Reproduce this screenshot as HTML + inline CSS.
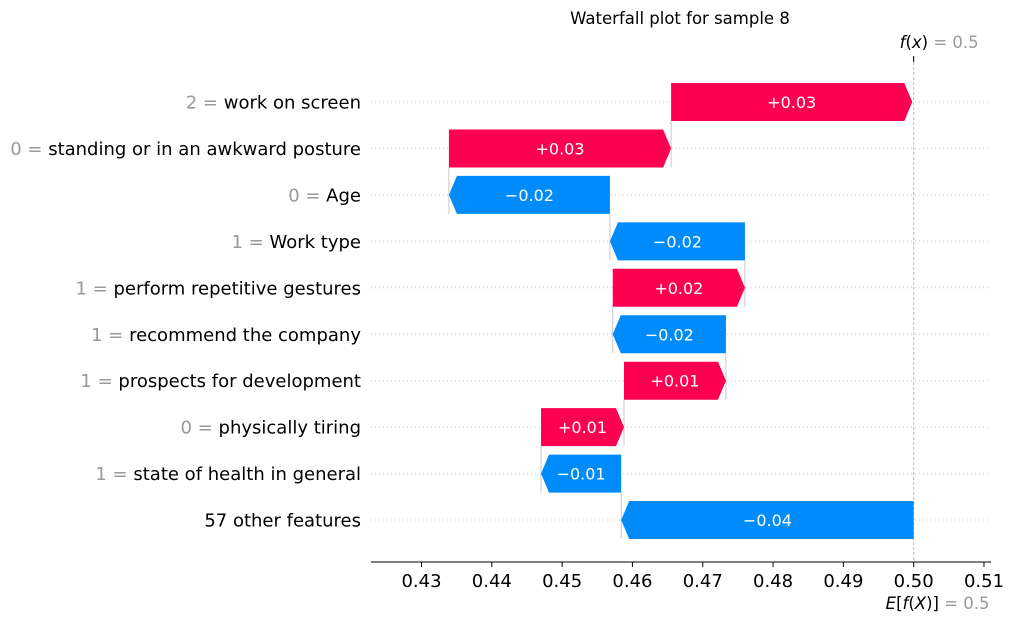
<!DOCTYPE html>
<html><head><meta charset="utf-8"><style>
body{margin:0;background:#fff;font-family:"DejaVu Sans","Liberation Sans",sans-serif;}
svg text{font-family:"DejaVu Sans","Liberation Sans",sans-serif;}
</style></head><body>
<svg id="chart" width="1013" height="622" xmlns="http://www.w3.org/2000/svg">
<text x="680" y="24" text-anchor="middle" font-size="16.5" fill="#000">Waterfall plot for sample 8</text>
<g id="plot"></g>
</svg>
<script>
const featureNames = ["work on screen","standing or in an awkward posture","Age","Work type","perform repetitive gestures","recommend the company","prospects for development","physically tiring","state of health in general","57 other features"];
const featureValues = ["2","0","0","1","1","1","1","0","1",""];
const shapValues = [0.0343,0.0316,-0.0229,-0.0192,0.0188,-0.0161,0.0145,0.0118,-0.0114,-0.0416];
const shapLabels = ["+0.03","+0.03","\u22120.02","\u22120.02","+0.02","\u22120.02","+0.01","+0.01","\u22120.01","\u22120.04"];
const baseValue = 0.5;
const fxValue = 0.5;
const xTicks = [0.43,0.44,0.45,0.46,0.47,0.48,0.49,0.50,0.51];
const xTickLabels = ["0.43","0.44","0.45","0.46","0.47","0.48","0.49","0.50","0.51"];

const NS="http://www.w3.org/2000/svg";
const g=document.getElementById('plot');
const x=v=>421.5+(v-0.43)*7031;
const y=i=>102+i*46.45;
const H=38, AH=8;
function mk(t,a){const e=document.createElementNS(NS,t);for(const k in a)e.setAttribute(k,a[k]);g.appendChild(e);return e;}
let vl=mk('line',{x1:x(baseValue),x2:x(baseValue),y1:57,y2:562,stroke:'#bbb','stroke-width':1,'stroke-dasharray':'3,2'});


let tk=mk('line',{x1:x(fxValue),x2:x(fxValue),y1:56,y2:62,stroke:'#000','stroke-width':1});


const n=shapValues.length;
let ends=new Array(n), starts=new Array(n);
let cur=baseValue;
for(let i=n-1;i>=0;i--){starts[i]=cur;cur+=shapValues[i];ends[i]=cur;}
for(let i=0;i<n;i++){
  const cy=y(i);
  let gl=mk('line',{x1:371,x2:991,y1:cy,y2:cy,stroke:'#ccc','stroke-width':1,'stroke-dasharray':'1,3'});
  
  
  const a=x(starts[i]), b=x(ends[i]);
  const pos=shapValues[i]>0;
  const color=pos?'#ff0051':'#008bfb';
  let pts;
  const t=cy-H/2, bt=cy+H/2;
  if(pos){const hx=Math.max(a,b-AH);pts=`${a},${t} ${hx},${t} ${b},${cy} ${hx},${bt} ${a},${bt}`;}
  else{const hx=Math.min(a,b+AH);pts=`${a},${t} ${hx},${t} ${b},${cy} ${hx},${bt} ${a},${bt}`;}
  const p=mk('polygon',{points:pts,fill:color});
  
  
  if(i<n-1){
    const c=mk('line',{x1:a,x2:a,y1:cy+H/2,y2:y(i+1)+H/2,stroke:'#bbb','stroke-width':0.8});
    
    
  }
  const vt=mk('text',{x:(a+b)/2,y:cy+6,'text-anchor':'middle','font-size':16,fill:'#fff'});
  vt.textContent=shapLabels[i];
  
  
  const lt=mk('text',{x:361,y:cy+6.5,'text-anchor':'end','font-size':18,fill:'#000'});
  if(featureValues[i]!==''){const s=document.createElementNS(NS,'tspan');s.setAttribute('fill','#999');s.textContent=featureValues[i]+' = ';lt.appendChild(s);}
  const s2=document.createElementNS(NS,'tspan');s2.textContent=featureNames[i];lt.appendChild(s2);
  
  
}
let ax=mk('line',{x1:371,x2:991,y1:562,y2:562,stroke:'#000','stroke-width':1});


xTicks.forEach((v,k)=>{
  const l=mk('line',{x1:x(v),x2:x(v),y1:562,y2:567,stroke:'#000'});
  
  
  const t=mk('text',{x:x(v),y:587,'text-anchor':'middle','font-size':18,fill:'#000'});
  t.textContent=xTickLabels[k];
  
  
});
let ft=mk('text',{x:x(fxValue)-14,y:48,'font-size':16.5,fill:'#000'});
ft.innerHTML='<tspan font-style="italic">f</tspan>(<tspan font-style="italic">x</tspan>)<tspan fill="#999"> = '+fxValue.toFixed(1)+'</tspan>';


let et=mk('text',{x:x(baseValue)-28,y:609,'font-size':16.5,fill:'#000'});
et.innerHTML='<tspan font-style="italic">E</tspan>[<tspan font-style="italic">f</tspan>(<tspan font-style="italic">X</tspan>)]<tspan fill="#999"> = '+baseValue.toFixed(1)+'</tspan>';


</script>
</body></html>
